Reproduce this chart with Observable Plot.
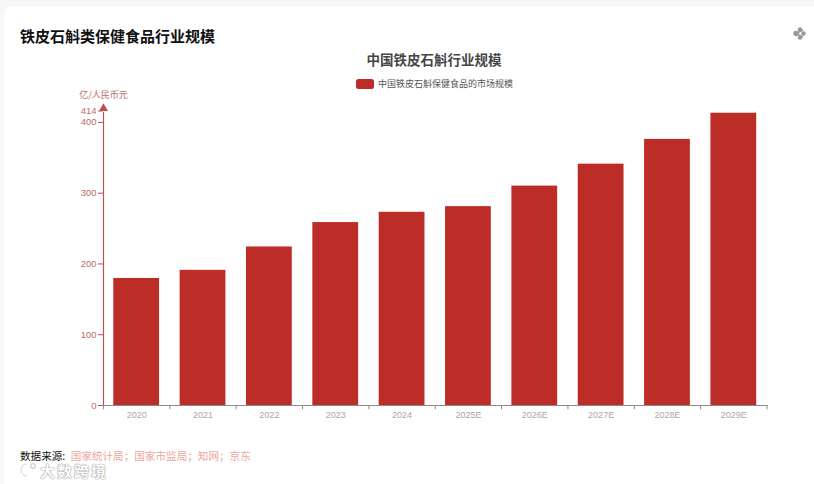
<!DOCTYPE html>
<html lang="zh">
<head>
<meta charset="utf-8">
<script src="https://cdn.jsdelivr.net/npm/d3@7"></script>
<script src="https://cdn.jsdelivr.net/npm/@observablehq/plot@0.6"></script>
<style>
  html, body { margin: 0; padding: 0; background: #f7f7f7; font-family: "Noto Sans CJK SC", "Noto Sans", sans-serif; }
  #card { position: relative; width: 810px; height: 478px; left: 4px; top: 6px; background: #fff; border-radius: 8px 0 0 0; overflow: visible; }
  #page { position: relative; width: 814px; height: 484px; overflow: hidden; }
  #chart { position: absolute; left: 0; top: 0; }
  #chart svg { display: block; background: transparent; }
  .t { position: absolute; white-space: nowrap; line-height: 1; }
  #pageTitle { left: 20px; top: 28px; font-size: 15px; font-weight: 700; color: #111; }
  #chartTitle { left: 284px; width: 300px; text-align: center; top: 53px; font-size: 13.5px; font-weight: 700; color: #464646; }
  #swatch { position: absolute; left: 356px; top: 79px; width: 18px; height: 10px; border-radius: 2.5px; background: #bd2d28; }
  #legendText { left: 378px; top: 79px; font-size: 9px; color: #555; }
  #source { left: 20px; top: 450.5px; font-size: 10.6px; color: #111; }
  #source span { color: #eba69e; margin-left: 3px; }
  #mark { left: 40px; top: 463px; font-size: 15px; font-weight: 700; color: #fff; text-shadow: 0 0 1.5px #888, 0 0 1px #888; letter-spacing: 2px; }
  #markIcon { position: absolute; left: 20px; top: 462px; }
  #share { position: absolute; left: 793px; top: 27px; }
</style>
</head>
<body>
<div id="page">
  <div id="card" style="position:absolute"></div>
  <div id="chart"></div>
  <div class="t" id="pageTitle"></div>
  <div class="t" id="chartTitle"></div>
  <div id="swatch"></div>
  <div class="t" id="legendText"></div>
  <div class="t" id="source"></div>
  <svg id="markIcon" width="20" height="16" viewBox="0 0 20 16"><path d="M7 2 A6 6 0 1 0 7 14" fill="none" stroke="#fff" stroke-width="2"/><path d="M7 2 A6 6 0 1 0 7 14" fill="none" stroke="#aaa" stroke-width=".5"/><circle cx="13" cy="4" r="2.4" fill="none" stroke="#bbb"/></svg>
  <div class="t" id="mark"></div>
  <svg id="share" width="13" height="13" viewBox="0 0 13 13"><g fill="#999" stroke="#999" stroke-width="1.4"><line x1="3" y1="6.5" x2="10" y2="3"/><line x1="3" y1="6.5" x2="10" y2="10"/><circle cx="3" cy="6.5" r="2"/><circle cx="7" cy="2.5" r="1.6"/><circle cx="7" cy="10.5" r="1.6"/><circle cx="10.5" cy="6.5" r="1.6"/></g></svg>
</div>
<script>
const categories = ["2020","2021","2022","2023","2024","2025E","2026E","2027E","2028E","2029E"];
const values = [179.5, 191, 224, 258.5, 273, 281, 310, 341, 376, 413];
const yTicks = [0, 100, 200, 300, 400];
const yMaxTick = [414];
const pageTitle = "铁皮石斛类保健食品行业规模";
const chartTitle = "中国铁皮石斛行业规模";
const seriesName = "中国铁皮石斛保健食品的市场规模";
const yUnit = "亿/人民币元";
const sourceLabel = "数据来源: ";
const sourceText = "国家统计局；国家市监局；知网；京东";
const watermark = "大数跨境";

const table = categories.map((c, i) => ({category: c, value: values[i]}));

const W = 814, H = 484, mL = 103, mR = 47.5, mT = 112, mB = 79;
const halfStep = (W - mL - mR) / categories.length / 2;
const red = "#bd2d28", axisRed = "#c0504c", labelRed = "#bd6a66", gray = "#a8a8a8";
const tickFont = '"Liberation Sans",sans-serif';

const plot = Plot.plot({
  width: W, height: H,
  marginLeft: mL, marginRight: mR, marginTop: mT, marginBottom: mB,
  style: {background: "transparent", fontFamily: '"Noto Sans CJK SC","Liberation Sans",sans-serif'},
  x: {domain: categories, paddingInner: 0.31, paddingOuter: 0.155, round: false, label: null},
  y: {domain: [0, 414], label: null},
  marks: [
    Plot.barY(table, {x: "category", y: "value", fill: red}),
    Plot.frame({anchor: "bottom", stroke: "#8a8a8a"}),
    Plot.frame({anchor: "left", stroke: axisRed, strokeWidth: 1.2}),
    Plot.dot([yUnit], {frameAnchor: "top-left", symbol: "triangle", r: 2.4, dy: -4, fill: axisRed, stroke: axisRed}),
    Plot.text([yUnit], {text: d => d, frameAnchor: "top-left", textAnchor: "middle", dy: -21, fontSize: 9, fill: labelRed}),
    Plot.axisY({ticks: yTicks, tickFormat: d => String(d), tickSize: 5, tickPadding: 2, fontSize: 9.5, fontFamily: tickFont, stroke: axisRed, fill: labelRed, label: null}),
    Plot.axisY({ticks: yMaxTick, tickFormat: d => String(d), tickSize: 5, tickPadding: 2, fontSize: 9.5, fontFamily: tickFont, stroke: axisRed, fill: labelRed, label: null, dy: -1.5}),
    Plot.axisX({tickSize: 0, tickPadding: 6, fontSize: 9, fontFamily: tickFont, fill: gray, label: null}),
    Plot.ruleX(categories, {x: d => d, y1: 0, y2: -6, dx: -halfStep, stroke: "#8a8a8a"}),
    Plot.ruleX(categories.slice(-1), {x: d => d, y1: 0, y2: -6, dx: halfStep, stroke: "#8a8a8a"})
  ]
});
document.getElementById("chart").appendChild(plot);
document.getElementById("pageTitle").textContent = pageTitle;
document.getElementById("chartTitle").textContent = chartTitle;
document.getElementById("legendText").textContent = seriesName;
document.getElementById("source").innerHTML = sourceLabel + "<span>" + sourceText + "</span>";
document.getElementById("mark").textContent = watermark;
</script>
</body>
</html>
